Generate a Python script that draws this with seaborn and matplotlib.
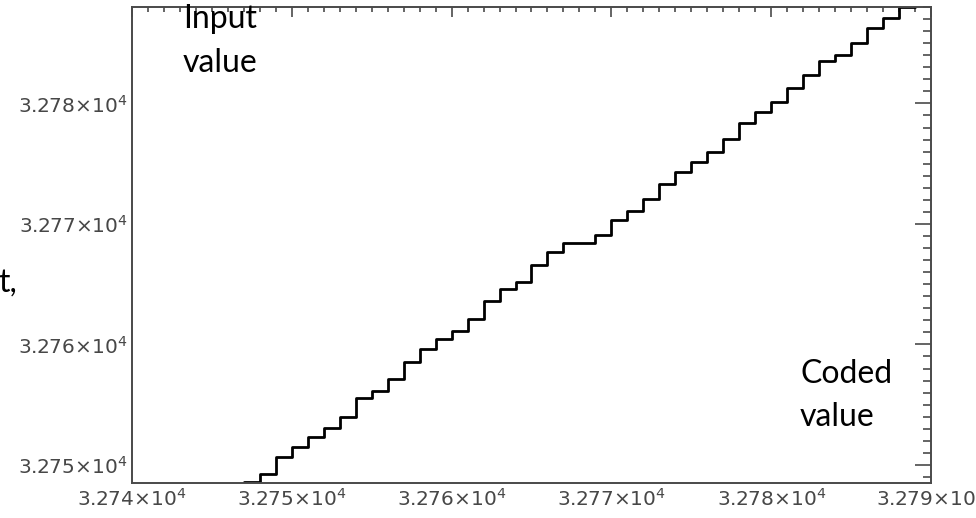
import matplotlib
matplotlib.use("Agg")
import matplotlib.pyplot as plt
import seaborn as sns
import pandas as pd
from matplotlib.ticker import MultipleLocator, FixedLocator, FixedFormatter

# Coded value (x) and the input value it maps back to (y); the last point
# repeats the final level so the last step is drawn to its full width.
coded_values = list(range(32747, 32790))
input_values = [
    32748.57, 32749.25, 32750.64, 32751.52, 32752.32, 32753.09, 32754.01, 32755.53, 32756.14, 32757.16,
    32758.58, 32759.60, 32760.45, 32761.14, 32762.13, 32763.58, 32764.60, 32765.20, 32766.63, 32767.64,
    32768.41, 32768.41, 32769.08, 32770.30, 32771.04, 32772.04, 32773.31, 32774.28, 32775.13, 32775.99,
    32777.01, 32778.39, 32779.30, 32780.08, 32781.27, 32782.35, 32783.53, 32784.05, 32784.98, 32786.29,
    32787.05, 32788.01, 32788.01,
]

x_ticks = [32740, 32750, 32760, 32770, 32780, 32790]
x_tick_labels = ["3.274", "3.275", "3.276", "3.277", "3.278", "3.279"]
y_ticks = [32750, 32760, 32770, 32780]
y_tick_labels = ["3.275", "3.276", "3.277", "3.278"]

df = pd.DataFrame({"coded": coded_values, "input": input_values})

sns.set_theme(style="white")
plt.rcParams["font.family"] = ["DejaVu Sans"]

W, H = 976, 518
fig = plt.figure(figsize=(W / 100, H / 100), dpi=100)
fig.patch.set_facecolor("white")

left, right, top, bottom = 132, 931, 7, 483
ax = fig.add_axes([left / W, (H - bottom) / H, (right - left) / W, (bottom - top) / H])
ax.set_facecolor("white")

sns.lineplot(data=df, x="coded", y="input", ax=ax, drawstyle="steps-post",
             color="black", linewidth=2.0, estimator=None, sort=False)

ax.set_xlim(32740, 32790)
ax.set_ylim(32748.5, 32788.0)
ax.set_xlabel("")
ax.set_ylabel("")

def sci_label(s):
    return r"$\mathregular{" + s + r"{\times}10^{4}}$"

ax.xaxis.set_major_locator(FixedLocator(x_ticks))
ax.xaxis.set_major_formatter(FixedFormatter([sci_label(s) for s in x_tick_labels]))
ax.yaxis.set_major_locator(FixedLocator(y_ticks))
ax.yaxis.set_major_formatter(FixedFormatter([sci_label(s) for s in y_tick_labels]))
ax.xaxis.set_minor_locator(MultipleLocator(1))
ax.yaxis.set_minor_locator(MultipleLocator(1))

spine_color = "#4a4a4a"
for sp in ax.spines.values():
    sp.set_visible(True)
    sp.set_color(spine_color)
    sp.set_linewidth(1.4)

ax.tick_params(which="both", direction="in", top=True, right=True,
               color=spine_color, width=1.2, labelcolor="#474747", labelsize=14.5)
ax.tick_params(axis="x", which="major", length=7.2, pad=3.5)
ax.tick_params(axis="x", which="minor", length=3.6)
ax.tick_params(axis="y", which="major", length=11.5, pad=3)
ax.tick_params(axis="y", which="minor", length=5.8)

# Axis captions drawn inside the plot area
label_font = dict(family=["Lato", "DejaVu Sans"], fontsize=23, color="black")
ax.text((183 - left) / (right - left), 1 - (28 - top) / (bottom - top), "Input",
        transform=ax.transAxes, ha="left", va="baseline", **label_font)
ax.text((183 - left) / (right - left), 1 - (72 - top) / (bottom - top), "value",
        transform=ax.transAxes, ha="left", va="baseline", **label_font)
ax.text((800 - left) / (right - left), 1 - (383 - top) / (bottom - top), "Coded",
        transform=ax.transAxes, ha="left", va="baseline", **label_font)
ax.text((800 - left) / (right - left), 1 - (426 - top) / (bottom - top), "value",
        transform=ax.transAxes, ha="left", va="baseline", **label_font)

# Fragment of a caption running off the left edge
fig.text(-2 / W, 1 - 292 / H, "t,", ha="left", va="baseline", **label_font)

fig.savefig("out.png", dpi=100, facecolor="white")
